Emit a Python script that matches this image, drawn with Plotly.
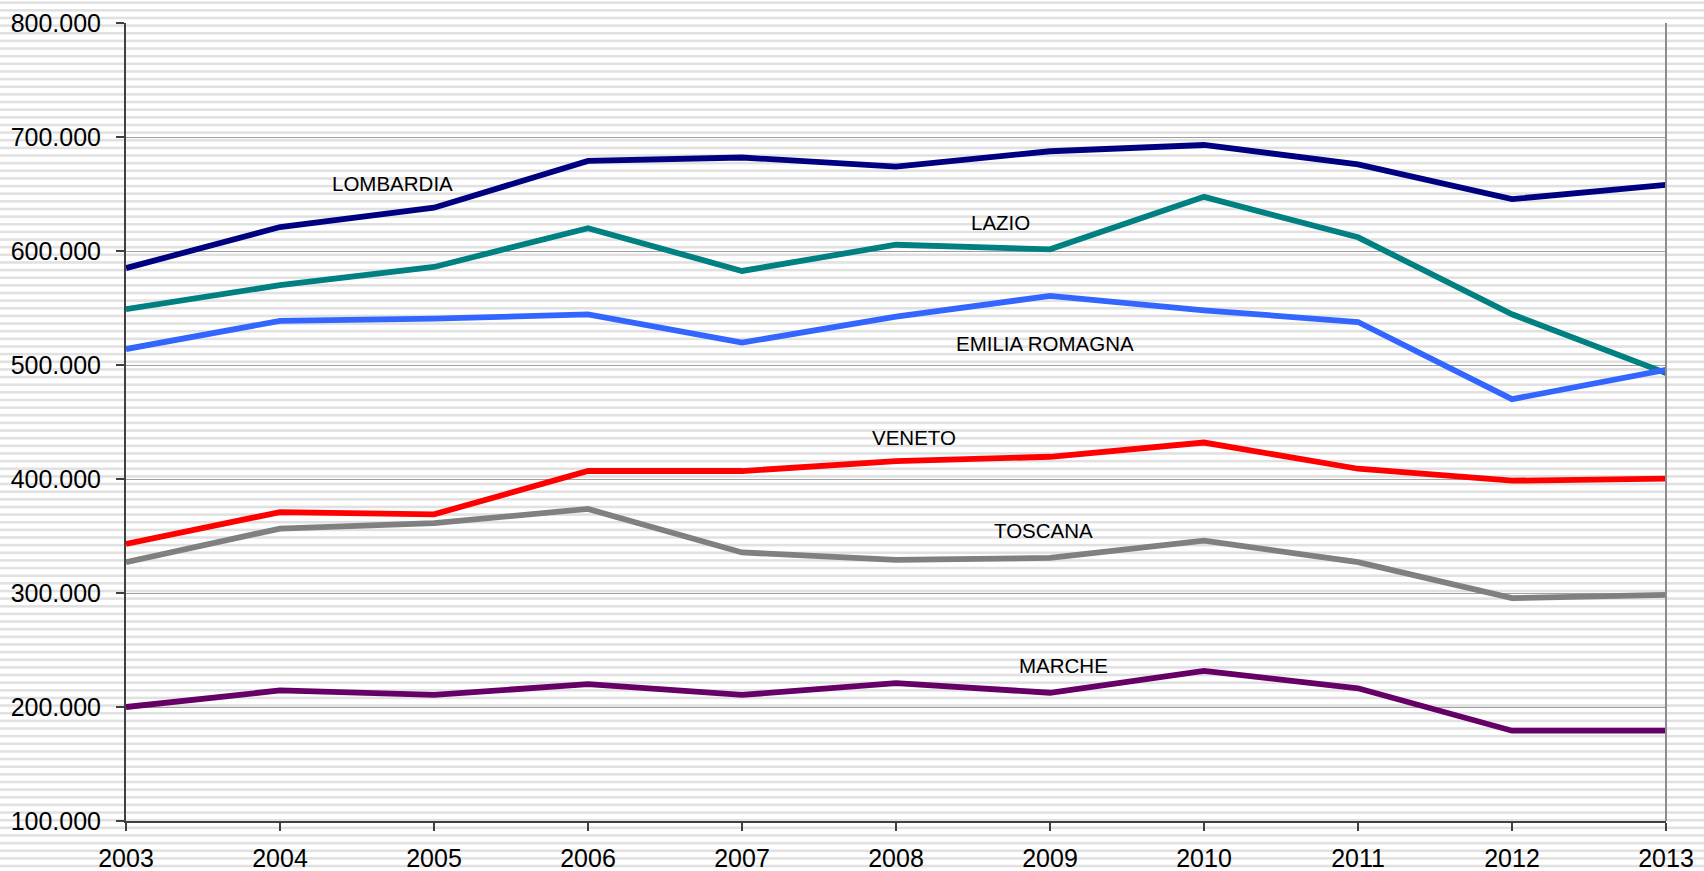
import base64
import plotly.graph_objects as go

years = [2003, 2004, 2005, 2006, 2007, 2008, 2009, 2010, 2011, 2012, 2013]

lombardia = [585000, 621000, 638000, 679000, 682000, 674000, 687500, 693000, 676000, 645500, 658000]
lazio = [549000, 570000, 586000, 620000, 582500, 605500, 601500, 647500, 612000, 544500, 493000]
emilia_romagna = [514000, 538700, 540600, 544400, 519600, 542500, 560600, 548000, 537700, 470000, 495800]
veneto = [343000, 371000, 369000, 407000, 407000, 415700, 419500, 432000, 409000, 398500, 400400]
toscana = [327000, 356500, 361300, 373700, 335600, 329000, 330800, 346000, 327000, 295500, 298400]
marche = [200000, 214500, 210600, 220000, 210600, 221000, 212500, 231600, 216400, 179200, 179200]

series_names = ["LOMBARDIA", "LAZIO", "EMILIA ROMAGNA", "VENETO", "TOSCANA", "MARCHE"]
series_values = [lombardia, lazio, emilia_romagna, veneto, toscana, marche]
series_colors = ["#000080", "#008080", "#3366FF", "#FF0000", "#808080", "#660066"]

label_x = [2004.73, 2008.68, 2008.97, 2008.12, 2008.96, 2009.09]
label_y = [658800, 624600, 519300, 436000, 354400, 236000]

y_ticks = [100000, 200000, 300000, 400000, 500000, 600000, 700000, 800000]

W, H = 1704, 871
ML, MR, MT, MB = 126, 38, 23, 50
PW, PH = W - ML - MR, H - MT - MB

fig = go.Figure()
for name, vals, col in zip(series_names, series_values, series_colors):
    fig.add_trace(go.Scatter(x=years, y=vals, mode="lines", name=name,
                             line=dict(color=col, width=5.8), hoverinfo="x+y+name"))

for name, lx, ly in zip(series_names, label_x, label_y):
    fig.add_annotation(x=lx, y=ly, text=name, showarrow=False,
                       font=dict(family="Liberation Sans, Arial", size=20.5, color="#000000"))

# striped page background
period = 7.64
stripes = "".join(
    f'<rect x="0" y="{1.4 + k * period:.2f}" width="{W}" height="2.6" fill="#e1e1e1"/>'
    for k in range(int(H / period) + 2)
)
svg = f'<svg xmlns="http://www.w3.org/2000/svg" width="{W}" height="{H}" viewBox="0 0 {W} {H}"><rect width="{W}" height="{H}" fill="#ffffff"/>{stripes}</svg>'
src = "data:image/svg+xml;base64," + base64.b64encode(svg.encode()).decode()
fig.add_layout_image(source=src, xref="paper", yref="paper",
                     x=-ML / PW, y=1 + MT / PH, sizex=W / PW, sizey=H / PH,
                     xanchor="left", yanchor="top", sizing="stretch", layer="below")

fig.add_shape(type="line", xref="paper", yref="paper", x0=1, x1=1, y0=0, y1=1,
              line=dict(color="#8c8c8c", width=2))

fig.update_layout(
    width=W, height=H,
    margin=dict(l=ML, r=MR, t=MT, b=MB, pad=0, autoexpand=False),
    paper_bgcolor="#ffffff",
    plot_bgcolor="rgba(0,0,0,0)",
    showlegend=False,
    separators=",.",
    font=dict(family="Liberation Sans, Arial", size=25, color="#000000"),
    xaxis=dict(range=[2003, 2013], tickmode="array", tickvals=years,
               ticktext=[str(y) for y in years], showgrid=False, zeroline=False,
               showline=True, linecolor="#404040", linewidth=2, automargin=False,
               ticks="outside", ticklen=8, tickcolor="#404040", tickwidth=1.5,
               ticklabelstandoff=6),
    yaxis=dict(range=[100000, 800000], tickmode="array", tickvals=y_ticks,
               tickformat=",.0f", showgrid=True, gridcolor="#a0a0a0", gridwidth=1.2,
               zeroline=False, showline=True, linecolor="#404040", linewidth=2,
               automargin=False,
               ticks="outside", ticklen=8, tickcolor="#404040", tickwidth=1.5,
               ticklabelstandoff=10),
)

fig.write_html(
    "out.html",
    config={"displayModeBar": False},
    post_script="document.body.style.margin='0';document.body.style.padding='0';"
                "document.documentElement.style.overflow='hidden';",
)
